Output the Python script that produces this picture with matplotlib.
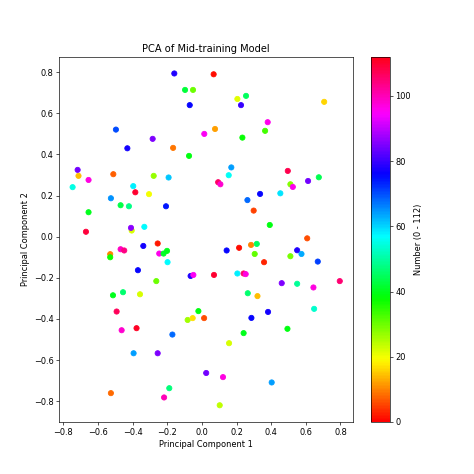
import numpy as np
import matplotlib
matplotlib.use("Agg")
import matplotlib.pyplot as plt

# PCA coordinates, with the colour-coded number of each point
pc1 = [-0.159, -0.097, -0.051, -0.070, 0.014, -0.496, -0.284, -0.430, -0.166, -0.074,
       -0.717, -0.712, -0.654, -0.511, -0.746, -0.396, -0.278, -0.192, -0.384, -0.305,
       -0.525, -0.469, -0.421, -0.207, -0.654, -0.669, -0.405, -0.409, -0.332,
       0.068, 0.205, 0.255, 0.226, 0.706, 0.380, 0.076, 0.234, 0.365, 0.170,
       0.155, 0.094, 0.107, 0.496, 0.511, 0.525, 0.613, 0.675, 0.263, 0.336,
       0.453, 0.299, 0.392, 0.608,
       -0.529, -0.529, -0.469, -0.448, -0.338, -0.255, -0.246, -0.221, -0.201, -0.198,
       -0.369, -0.263, -0.065, -0.049, -0.513, -0.455, -0.357, -0.492, -0.463, -0.377,
       -0.170, -0.020, -0.082, -0.053, 0.013, -0.394, -0.255, 0.025, -0.525, -0.188,
       -0.218,
       0.143, 0.215, 0.284, 0.317, 0.305, 0.359, 0.550, 0.575, 0.511, 0.669,
       0.070, 0.205, 0.241, 0.253, 0.461, 0.550, 0.644, 0.796, 0.265, 0.321,
       0.648, 0.382, 0.286, 0.241, 0.494, 0.157, 0.122, 0.403, 0.103]
pc2 = [0.794, 0.714, 0.714, 0.640, 0.500, 0.521, 0.476, 0.430, 0.432, 0.393,
       0.325, 0.296, 0.276, 0.304, 0.241, 0.246, 0.296, 0.288, 0.216, 0.207,
       0.187, 0.153, 0.148, 0.148, 0.119, 0.024, 0.030, 0.043, 0.048,
       0.790, 0.670, 0.685, 0.640, 0.656, 0.557, 0.524, 0.482, 0.515, 0.337,
       0.299, 0.265, 0.255, 0.320, 0.255, 0.242, 0.271, 0.289, 0.178, 0.208,
       0.211, 0.127, 0.057, -0.008,
       -0.085, -0.100, -0.061, -0.067, -0.045, -0.033, -0.082, -0.082, -0.069, -0.124,
       -0.163, -0.216, -0.191, -0.186, -0.285, -0.270, -0.280, -0.364, -0.455, -0.445,
       -0.476, -0.362, -0.405, -0.396, -0.396, -0.567, -0.567, -0.663, -0.761, -0.737,
       -0.782,
       -0.067, -0.054, -0.040, -0.035, -0.084, -0.124, -0.066, -0.084, -0.095, -0.121,
       -0.186, -0.179, -0.179, -0.182, -0.226, -0.229, -0.247, -0.216, -0.275, -0.289,
       -0.351, -0.366, -0.395, -0.469, -0.448, -0.518, -0.683, -0.709, -0.820]
number = [78, 42, 30, 76, 95, 70, 85, 77, 9, 39,
          84, 14, 97, 7, 55, 58, 27, 61, 110, 20,
          65, 43, 48, 74, 40, 109, 22, 86, 57,
          1, 21, 45, 80, 16, 96, 12, 38, 33, 64,
          56, 106, 98, 108, 28, 96, 84, 44, 68, 76,
          59, 5, 39, 6,
          10, 37, 99, 104, 77, 2, 96, 41, 40, 57,
          76, 30, 78, 95, 40, 46, 22, 107, 98, 111,
          68, 39, 26, 17, 6, 64, 85, 84, 8, 47,
          100,
          76, 1, 10, 45, 31, 3, 78, 63, 29, 71,
          110, 58, 106, 97, 85, 49, 97, 105, 46, 14,
          53, 77, 76, 40, 39, 22, 97, 64, 24]

fig = plt.figure(figsize=(8, 8), dpi=59.25)
sc = plt.scatter(pc1, pc2, c=number, cmap="hsv", vmin=0, vmax=112, s=40)
cbar = plt.colorbar(sc)
cbar.set_label("Number (0 - 112)")
plt.xlabel("Principal Component 1")
plt.ylabel("Principal Component 2")
plt.title("PCA of Mid-training Model")
plt.savefig("out.png", dpi=59.25)
